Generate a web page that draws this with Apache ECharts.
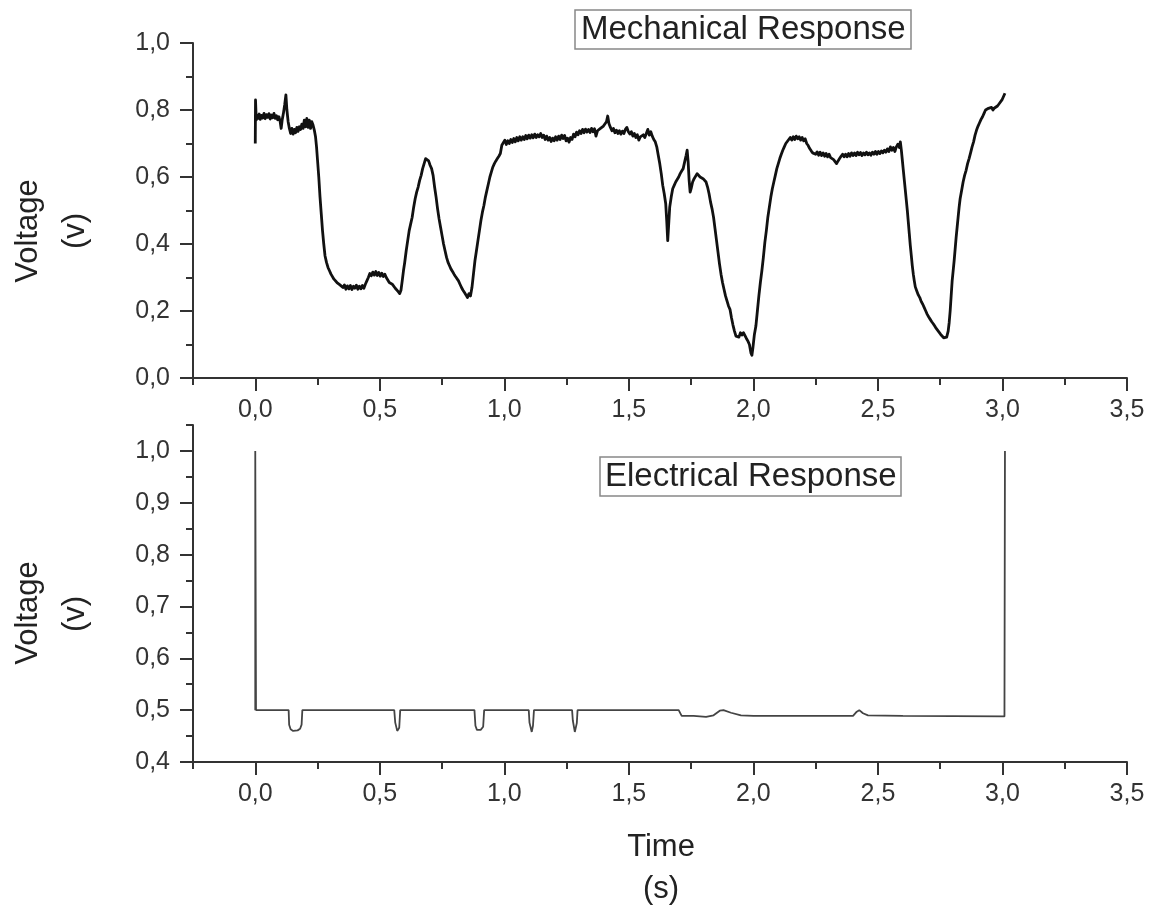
<!DOCTYPE html>
<html>
<head>
<meta charset="utf-8">
<title>Mechanical and Electrical Response</title>
<script src="https://cdn.jsdelivr.net/npm/echarts@6/dist/echarts.min.js"></script>
<style>
  html, body { margin: 0; padding: 0; background: #fff; }
  #chart { width: 1154px; height: 909px; }
</style>
</head>
<body>
<div id="chart"></div>
<script>
// ---- Tick values ----
const timeMajorTicks = [0, 0.5, 1.0, 1.5, 2.0, 2.5, 3.0, 3.5];
const timeMinorTicks = [-0.25, 0.25, 0.75, 1.25, 1.75, 2.25, 2.75, 3.25];
const mechMajorTicks = [0, 0.2, 0.4, 0.6, 0.8, 1.0];
const mechMinorTicks = [0.1, 0.3, 0.5, 0.7, 0.9];
const elecMajorTicks = [0.4, 0.5, 0.6, 0.7, 0.8, 0.9, 1.0];
const elecMinorTicks = [0.45, 0.55, 0.65, 0.75, 0.85, 0.95, 1.05];

// ---- Mechanical response: [time (s), voltage (v)] ----
const mechStart = [
  [0, 0.70], [0.001, 0.83], [0.004, 0.77], [0.008, 0.785], [0.012, 0.775], [0.016, 0.788],
  [0.02, 0.772], [0.025, 0.784], [0.03, 0.776], [0.035, 0.79], [0.04, 0.774], [0.045, 0.786],
  [0.05, 0.778], [0.055, 0.789], [0.06, 0.773], [0.065, 0.785], [0.07, 0.777], [0.075, 0.79],
  [0.08, 0.775], [0.085, 0.783], [0.09, 0.771], [0.095, 0.78], [0.10, 0.765], [0.104, 0.745],
  [0.108, 0.77], [0.113, 0.79], [0.118, 0.815], [0.123, 0.845], [0.127, 0.80], [0.132, 0.765],
  [0.137, 0.745], [0.142, 0.73], [0.147, 0.745], [0.152, 0.728], [0.157, 0.742], [0.162, 0.732],
  [0.167, 0.748], [0.172, 0.736], [0.177, 0.75], [0.182, 0.742], [0.187, 0.758], [0.192, 0.745],
  [0.197, 0.77], [0.202, 0.75], [0.207, 0.775], [0.212, 0.748], [0.217, 0.77], [0.222, 0.745],
  [0.227, 0.765], [0.232, 0.755], [0.237, 0.74]
];
const mechFirstDrop = [
  [0.242, 0.72], [0.246, 0.69], [0.25, 0.65], [0.255, 0.60], [0.26, 0.54], [0.265, 0.49],
  [0.27, 0.44], [0.275, 0.40], [0.28, 0.365], [0.286, 0.345], [0.292, 0.33], [0.298, 0.32]
];
const mechLowPlateau = [
  [0.304, 0.31], [0.31, 0.305], [0.316, 0.295], [0.322, 0.30], [0.328, 0.285], [0.334, 0.29],
  [0.34, 0.278], [0.346, 0.283], [0.352, 0.27], [0.358, 0.278], [0.364, 0.265], [0.37, 0.275],
  [0.376, 0.266], [0.382, 0.276], [0.388, 0.264], [0.394, 0.274], [0.40, 0.268], [0.406, 0.277],
  [0.412, 0.265], [0.418, 0.274], [0.424, 0.266], [0.43, 0.276], [0.436, 0.268], [0.442, 0.28],
  [0.448, 0.29], [0.454, 0.30], [0.46, 0.312], [0.466, 0.305], [0.472, 0.316], [0.478, 0.307],
  [0.484, 0.318], [0.49, 0.306], [0.496, 0.315], [0.502, 0.304], [0.508, 0.313], [0.514, 0.303],
  [0.52, 0.31], [0.526, 0.30], [0.532, 0.296], [0.538, 0.285], [0.544, 0.29], [0.55, 0.28],
  [0.556, 0.276], [0.562, 0.268], [0.568, 0.27], [0.574, 0.258], [0.58, 0.252], [0.585, 0.262],
  [0.59, 0.29]
];
const mechPeak = [
  [0.595, 0.32], [0.60, 0.345], [0.606, 0.38], [0.612, 0.41], [0.618, 0.44], [0.624, 0.46],
  [0.63, 0.48], [0.636, 0.51], [0.642, 0.535], [0.648, 0.555], [0.654, 0.57], [0.66, 0.59],
  [0.666, 0.605], [0.672, 0.625], [0.678, 0.64], [0.684, 0.655], [0.69, 0.66], [0.696, 0.648],
  [0.702, 0.635], [0.708, 0.625], [0.714, 0.605], [0.72, 0.57], [0.726, 0.54], [0.732, 0.505],
  [0.738, 0.475], [0.744, 0.45], [0.75, 0.425], [0.756, 0.40], [0.762, 0.38], [0.768, 0.36],
  [0.774, 0.345], [0.78, 0.335], [0.786, 0.325], [0.792, 0.318], [0.798, 0.31], [0.804, 0.303],
  [0.81, 0.298], [0.816, 0.29], [0.822, 0.28], [0.828, 0.27], [0.834, 0.262], [0.84, 0.255],
  [0.846, 0.248], [0.852, 0.24], [0.858, 0.252], [0.864, 0.245], [0.87, 0.27], [0.876, 0.31],
  [0.882, 0.35], [0.888, 0.38], [0.894, 0.41], [0.90, 0.44], [0.906, 0.47], [0.912, 0.495],
  [0.918, 0.515], [0.924, 0.54], [0.93, 0.56], [0.936, 0.58], [0.942, 0.60], [0.948, 0.615],
  [0.954, 0.63], [0.96, 0.64], [0.966, 0.648], [0.972, 0.655], [0.978, 0.662], [0.984, 0.67],
  [0.99, 0.695], [0.996, 0.70]
];
const mechHighPlateau = [
  [1.002, 0.71], [1.008, 0.697], [1.014, 0.708], [1.02, 0.70], [1.026, 0.712], [1.032, 0.703],
  [1.038, 0.715], [1.044, 0.705], [1.05, 0.718], [1.056, 0.708], [1.062, 0.72], [1.068, 0.71],
  [1.074, 0.72], [1.08, 0.712], [1.086, 0.724], [1.092, 0.714], [1.098, 0.725], [1.104, 0.716],
  [1.11, 0.726], [1.116, 0.717], [1.122, 0.728], [1.128, 0.718], [1.134, 0.726], [1.14, 0.72],
  [1.146, 0.73], [1.152, 0.718], [1.158, 0.725], [1.164, 0.712], [1.17, 0.722], [1.176, 0.71],
  [1.182, 0.718], [1.188, 0.706], [1.194, 0.716], [1.20, 0.708], [1.206, 0.72], [1.212, 0.71],
  [1.218, 0.722], [1.224, 0.712], [1.23, 0.725], [1.236, 0.715], [1.242, 0.724], [1.248, 0.708],
  [1.254, 0.716], [1.26, 0.704], [1.266, 0.718], [1.272, 0.712], [1.278, 0.728], [1.284, 0.72],
  [1.29, 0.734], [1.296, 0.726], [1.302, 0.738], [1.308, 0.73], [1.314, 0.742], [1.32, 0.732],
  [1.326, 0.743], [1.332, 0.734], [1.338, 0.742], [1.344, 0.733], [1.35, 0.745], [1.356, 0.735],
  [1.362, 0.744], [1.368, 0.722], [1.374, 0.738], [1.38, 0.735], [1.386, 0.745], [1.392, 0.74],
  [1.398, 0.752], [1.404, 0.748], [1.41, 0.765], [1.415, 0.782], [1.42, 0.76], [1.426, 0.748],
  [1.432, 0.738], [1.438, 0.745], [1.444, 0.732], [1.45, 0.74], [1.456, 0.73], [1.462, 0.738],
  [1.468, 0.728], [1.474, 0.737], [1.48, 0.73], [1.486, 0.742], [1.492, 0.748], [1.498, 0.735],
  [1.504, 0.728], [1.51, 0.735], [1.516, 0.722], [1.522, 0.73], [1.528, 0.718], [1.534, 0.726],
  [1.54, 0.71], [1.546, 0.72], [1.552, 0.715], [1.558, 0.726], [1.564, 0.718], [1.57, 0.73],
  [1.576, 0.742], [1.582, 0.725], [1.588, 0.735], [1.594, 0.722], [1.60, 0.712], [1.606, 0.705]
];
const mechDeepDip = [
  [1.612, 0.69], [1.618, 0.665], [1.624, 0.64], [1.63, 0.61], [1.636, 0.575], [1.642, 0.55],
  [1.648, 0.52], [1.652, 0.47], [1.656, 0.41], [1.66, 0.46], [1.664, 0.51], [1.67, 0.54],
  [1.676, 0.565], [1.682, 0.575], [1.688, 0.585], [1.694, 0.59], [1.70, 0.60], [1.706, 0.61],
  [1.712, 0.618], [1.718, 0.625], [1.724, 0.645], [1.73, 0.665], [1.734, 0.68], [1.738, 0.645],
  [1.742, 0.59], [1.746, 0.555], [1.75, 0.565], [1.756, 0.585], [1.762, 0.595], [1.768, 0.60],
  [1.774, 0.61], [1.78, 0.607], [1.786, 0.60], [1.792, 0.602], [1.798, 0.595], [1.804, 0.59],
  [1.81, 0.585], [1.816, 0.57], [1.822, 0.55], [1.828, 0.525], [1.834, 0.505], [1.84, 0.48],
  [1.846, 0.445], [1.852, 0.41], [1.858, 0.375], [1.864, 0.34], [1.87, 0.31], [1.876, 0.285],
  [1.882, 0.265], [1.888, 0.245], [1.894, 0.23], [1.90, 0.215], [1.906, 0.205], [1.912, 0.18],
  [1.918, 0.158], [1.924, 0.14], [1.93, 0.125], [1.936, 0.13], [1.942, 0.122], [1.948, 0.135],
  [1.954, 0.128], [1.96, 0.135], [1.966, 0.13], [1.972, 0.118], [1.978, 0.11], [1.984, 0.10],
  [1.99, 0.075], [1.994, 0.068], [1.998, 0.09], [2.004, 0.13], [2.01, 0.155], [2.016, 0.20],
  [2.022, 0.245], [2.028, 0.285], [2.034, 0.32], [2.04, 0.36], [2.046, 0.405], [2.052, 0.44],
  [2.058, 0.48], [2.064, 0.51], [2.07, 0.54], [2.076, 0.565], [2.082, 0.585], [2.088, 0.605],
  [2.094, 0.625], [2.10, 0.64], [2.106, 0.655], [2.112, 0.668], [2.118, 0.68], [2.124, 0.69],
  [2.13, 0.70], [2.136, 0.706], [2.142, 0.712]
];
const mechMidPlateau = [
  [2.148, 0.718], [2.154, 0.71], [2.16, 0.72], [2.166, 0.712], [2.172, 0.722], [2.178, 0.714],
  [2.184, 0.72], [2.19, 0.71], [2.196, 0.718], [2.202, 0.708], [2.208, 0.714], [2.214, 0.70],
  [2.22, 0.694], [2.226, 0.685], [2.232, 0.678], [2.238, 0.672], [2.244, 0.676], [2.25, 0.668],
  [2.256, 0.675], [2.262, 0.665], [2.268, 0.674], [2.274, 0.664], [2.28, 0.672], [2.286, 0.662],
  [2.292, 0.67], [2.298, 0.66], [2.304, 0.668], [2.31, 0.658], [2.316, 0.662], [2.322, 0.652],
  [2.328, 0.646], [2.334, 0.64], [2.34, 0.648], [2.346, 0.655], [2.352, 0.662], [2.358, 0.668],
  [2.364, 0.66], [2.37, 0.668], [2.376, 0.66], [2.382, 0.67], [2.388, 0.662], [2.394, 0.672],
  [2.40, 0.664], [2.406, 0.672], [2.412, 0.664], [2.418, 0.674], [2.424, 0.666], [2.43, 0.673],
  [2.436, 0.664], [2.442, 0.672], [2.448, 0.666], [2.454, 0.674], [2.46, 0.666], [2.466, 0.672],
  [2.472, 0.665], [2.478, 0.674], [2.484, 0.668], [2.49, 0.676], [2.496, 0.668], [2.502, 0.676],
  [2.508, 0.67], [2.514, 0.678], [2.52, 0.672], [2.526, 0.68], [2.532, 0.674], [2.538, 0.684],
  [2.544, 0.676], [2.55, 0.69], [2.556, 0.68], [2.562, 0.688], [2.568, 0.676], [2.574, 0.69],
  [2.58, 0.698], [2.586, 0.688], [2.59, 0.705], [2.594, 0.68]
];
const mechLastDip = [
  [2.598, 0.65], [2.602, 0.62], [2.606, 0.59], [2.61, 0.56], [2.614, 0.53], [2.618, 0.50],
  [2.622, 0.465], [2.626, 0.43], [2.63, 0.395], [2.634, 0.365], [2.638, 0.335], [2.642, 0.31],
  [2.646, 0.29], [2.65, 0.272], [2.656, 0.26], [2.662, 0.248], [2.668, 0.24], [2.674, 0.228],
  [2.68, 0.22], [2.686, 0.21], [2.692, 0.20], [2.698, 0.19], [2.704, 0.182], [2.71, 0.175],
  [2.716, 0.168], [2.722, 0.162], [2.728, 0.155], [2.734, 0.148], [2.74, 0.142], [2.746, 0.136],
  [2.752, 0.13], [2.758, 0.126], [2.764, 0.12], [2.77, 0.115], [2.776, 0.122], [2.782, 0.14],
  [2.786, 0.165], [2.79, 0.20], [2.794, 0.245], [2.798, 0.29], [2.802, 0.32], [2.806, 0.35],
  [2.81, 0.385], [2.814, 0.42], [2.818, 0.45], [2.822, 0.48], [2.826, 0.51], [2.83, 0.535],
  [2.836, 0.56], [2.842, 0.585], [2.848, 0.605], [2.854, 0.62], [2.86, 0.64], [2.866, 0.655],
  [2.872, 0.672], [2.878, 0.69], [2.884, 0.705], [2.89, 0.725], [2.896, 0.74], [2.902, 0.752],
  [2.908, 0.762], [2.914, 0.772], [2.92, 0.78], [2.926, 0.79], [2.932, 0.80], [2.938, 0.796],
  [2.944, 0.805], [2.95, 0.80], [2.956, 0.808], [2.962, 0.80], [2.968, 0.806], [2.974, 0.804],
  [2.98, 0.812], [2.986, 0.818], [2.992, 0.822], [2.998, 0.83], [3.004, 0.835], [3.01, 0.85]
];

// ---- Electrical response: [time (s), voltage (v)] ----
const elecPulses = [
  [0, 0.5], [0, 1.0], [0.003, 0.5], [0.134, 0.5], [0.136, 0.472], [0.142, 0.463],
  [0.152, 0.46], [0.17, 0.461], [0.18, 0.464], [0.186, 0.472], [0.189, 0.5],
  [0.558, 0.5], [0.562, 0.476], [0.57, 0.46], [0.578, 0.466], [0.582, 0.5],
  [0.88, 0.5], [0.884, 0.47], [0.89, 0.462], [0.905, 0.462], [0.915, 0.468], [0.919, 0.5],
  [1.098, 0.5], [1.101, 0.476], [1.11, 0.458], [1.115, 0.47], [1.119, 0.5],
  [1.272, 0.5], [1.275, 0.48], [1.283, 0.458], [1.291, 0.475], [1.294, 0.5]
];
const elecTail = [
  [1.70, 0.5], [1.712, 0.489], [1.76, 0.489], [1.81, 0.487], [1.84, 0.49], [1.865, 0.499],
  [1.88, 0.5], [1.91, 0.495], [1.95, 0.49], [2.0, 0.489], [2.40, 0.489], [2.415, 0.497],
  [2.425, 0.5], [2.44, 0.494], [2.46, 0.49], [2.60, 0.489], [3.008, 0.488], [3.01, 1.0]
];

const mechanical = [].concat(mechStart, mechFirstDrop, mechLowPlateau, mechPeak,
  mechHighPlateau, mechDeepDip, mechMidPlateau, mechLastDip);
const electrical = [].concat(elecPulses, elecTail);

const FONT = '"Liberation Sans", Arial, sans-serif';
const AXIS_COLOR = '#333';
const commaFmt = v => Number(v).toFixed(1).replace('.', ',');

function majorAxis(extra) {
  return Object.assign({
    type: 'value',
    axisLine: { show: true, onZero: false, lineStyle: { color: AXIS_COLOR, width: 2 } },
    axisTick: { show: true, inside: false, length: 13, lineStyle: { color: AXIS_COLOR, width: 2 } },
    axisLabel: { show: true, color: '#333', fontSize: 25, fontFamily: FONT, formatter: commaFmt },
    splitLine: { show: false }
  }, extra);
}
function minorAxis(extra) {
  return Object.assign({
    type: 'value',
    axisLine: { show: false, onZero: false },
    axisTick: { show: true, inside: false, length: 7, lineStyle: { color: AXIS_COLOR, width: 2 } },
    axisLabel: { show: false },
    splitLine: { show: false }
  }, extra);
}

const chart = echarts.init(document.getElementById('chart'), null, { renderer: 'canvas' });

const option = {
  animation: false,
  backgroundColor: '#fff',
  grid: [
    { left: 193, right: 27, top: 43, height: 335, containLabel: false },
    { left: 193, right: 27, top: 425, height: 337, containLabel: false }
  ],
  title: [
    {
      text: 'Mechanical Response', left: 575, top: 10,
      padding: [3, 6, 3, 6], borderColor: '#888', borderWidth: 1.5,
      textStyle: { fontFamily: FONT, fontSize: 33, fontWeight: 'normal', color: '#222' }
    },
    {
      text: 'Electrical Response', left: 600, top: 457,
      padding: [3, 5, 3, 5], borderColor: '#888', borderWidth: 1.5,
      textStyle: { fontFamily: FONT, fontSize: 33, fontWeight: 'normal', color: '#222' }
    }
  ],
  xAxis: [
    majorAxis({ gridIndex: 0, position: 'bottom', min: -0.25, max: 3.5,
      axisTick: { show: true, length: 13, customValues: timeMajorTicks, lineStyle: { color: AXIS_COLOR, width: 2 } },
      axisLabel: { show: true, margin: 20, color: '#333', fontSize: 25, fontFamily: FONT, formatter: commaFmt, customValues: timeMajorTicks } }),
    minorAxis({ gridIndex: 0, position: 'bottom', min: -0.25, max: 3.5,
      axisTick: { show: true, length: 7, customValues: timeMinorTicks, lineStyle: { color: AXIS_COLOR, width: 2 } } }),
    majorAxis({ gridIndex: 1, position: 'bottom', min: -0.25, max: 3.5,
      axisTick: { show: true, length: 13, customValues: timeMajorTicks, lineStyle: { color: AXIS_COLOR, width: 2 } },
      axisLabel: { show: true, margin: 20, color: '#333', fontSize: 25, fontFamily: FONT, formatter: commaFmt, customValues: timeMajorTicks } }),
    minorAxis({ gridIndex: 1, position: 'bottom', min: -0.25, max: 3.5,
      axisTick: { show: true, length: 7, customValues: timeMinorTicks, lineStyle: { color: AXIS_COLOR, width: 2 } } })
  ],
  yAxis: [
    majorAxis({ gridIndex: 0, position: 'left', min: 0, max: 1.0,
      axisTick: { show: true, length: 13, customValues: mechMajorTicks, lineStyle: { color: AXIS_COLOR, width: 2 } },
      axisLabel: { show: true, margin: 23, color: '#333', fontSize: 25, fontFamily: FONT, formatter: commaFmt, customValues: mechMajorTicks } }),
    minorAxis({ gridIndex: 0, position: 'left', min: 0, max: 1.0,
      axisTick: { show: true, length: 7, customValues: mechMinorTicks, lineStyle: { color: AXIS_COLOR, width: 2 } } }),
    majorAxis({ gridIndex: 1, position: 'left', min: 0.4, max: 1.05,
      axisTick: { show: true, length: 13, customValues: elecMajorTicks, lineStyle: { color: AXIS_COLOR, width: 2 } },
      axisLabel: { show: true, margin: 23, color: '#333', fontSize: 25, fontFamily: FONT, formatter: commaFmt, customValues: elecMajorTicks } }),
    minorAxis({ gridIndex: 1, position: 'left', min: 0.4, max: 1.05,
      axisTick: { show: true, length: 7, customValues: elecMinorTicks, lineStyle: { color: AXIS_COLOR, width: 2 } } })
  ],
  series: [
    {
      name: 'Mechanical Response', type: 'line', xAxisIndex: 0, yAxisIndex: 0,
      data: mechanical, showSymbol: false, symbol: 'none', smooth: false,
      lineStyle: { color: '#111', width: 2.8, join: 'round' }
    },
    {
      name: 'Electrical Response', type: 'line', xAxisIndex: 2, yAxisIndex: 2,
      data: electrical, showSymbol: false, symbol: 'none', smooth: false,
      lineStyle: { color: '#444', width: 1.8 }
    }
  ],
  graphic: [
    { type: 'text', x: 28, y: 231, rotation: Math.PI / 2,
      style: { text: 'Voltage', font: '31px ' + FONT, fill: '#222', align: 'center', verticalAlign: 'middle' } },
    { type: 'text', x: 75, y: 231, rotation: Math.PI / 2,
      style: { text: '(v)', font: '31px ' + FONT, fill: '#222', align: 'center', verticalAlign: 'middle' } },
    { type: 'text', x: 28, y: 613, rotation: Math.PI / 2,
      style: { text: 'Voltage', font: '31px ' + FONT, fill: '#222', align: 'center', verticalAlign: 'middle' } },
    { type: 'text', x: 75, y: 614, rotation: Math.PI / 2,
      style: { text: '(v)', font: '31px ' + FONT, fill: '#222', align: 'center', verticalAlign: 'middle' } },
    { type: 'text', x: 661, y: 847,
      style: { text: 'Time', font: '31px ' + FONT, fill: '#222', align: 'center', verticalAlign: 'middle' } },
    { type: 'text', x: 661, y: 889,
      style: { text: '(s)', font: '31px ' + FONT, fill: '#222', align: 'center', verticalAlign: 'middle' } }
  ]
};

chart.setOption(option);
</script>
</body>
</html>
